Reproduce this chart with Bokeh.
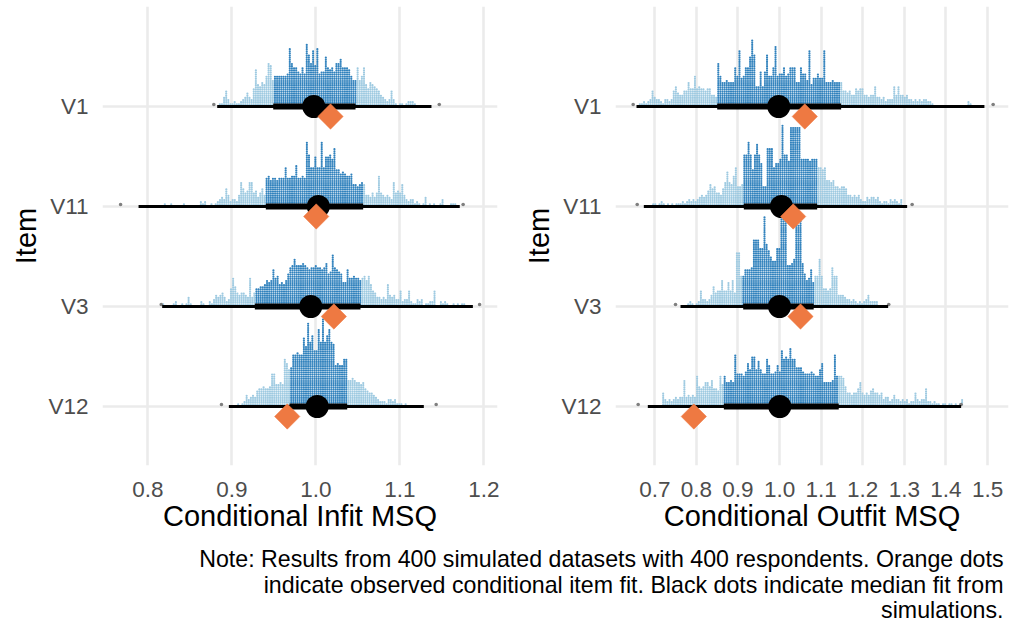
import math
from bokeh.plotting import figure
from bokeh.models import Range1d, FixedTicker, ColumnDataSource, CustomJSTickFormatter
from bokeh.layouts import column, row
from bokeh.embed import file_html
from bokeh.resources import INLINE
from bokeh.core.properties import value

# ---------------- data ----------------
items = ["V1", "V11", "V3", "V12"]
item_pos = [4, 3, 2, 1]

# Conditional infit: dot-column heights (left to right), first column centre value
infit_start = [0.88576, 0.82028, 0.81829, 0.90758]
infit_v1 = [1, 1, 4, 7, 3, 1, 1, 2, 1, 1, 2, 3, 4, 6, 4, 3, 8, 17, 10, 9, 11, 10, 14, 20, 19, 12,
            14, 14, 14, 14, 14, 14, 15, 27, 20, 18, 18, 16, 15, 18, 15, 29, 24, 20, 26, 19, 27, 15,
            16, 16, 23, 18, 17, 18, 16, 20, 20, 22, 18, 18, 18, 17, 14, 12, 12, 18, 12, 14, 18, 10,
            8, 11, 10, 9, 8, 7, 5, 4, 3, 2, 3, 7, 3, 1, 0, 1, 1, 0, 1, 2, 2, 2, 1]
infit_v11 = [1, 0, 0, 1, 0, 0, 0, 0, 0, 1, 0, 0, 0, 0, 0, 0, 0, 2, 1, 2, 0, 0, 1, 0, 1, 2, 3, 4, 3,
             8, 5, 2, 3, 3, 2, 5, 11, 8, 6, 7, 11, 11, 6, 7, 4, 6, 8, 5, 13, 14, 12, 13, 13, 12, 13,
             13, 13, 18, 13, 13, 14, 14, 19, 13, 13, 14, 13, 30, 24, 18, 18, 23, 18, 18, 30, 18, 23,
             23, 24, 22, 27, 17, 17, 15, 16, 15, 14, 14, 15, 10, 10, 9, 10, 11, 10, 5, 5, 4, 6, 4, 6,
             14, 6, 5, 4, 5, 4, 3, 11, 6, 7, 6, 10, 5, 3, 2, 3, 3, 1, 2, 1, 0, 1, 4, 0, 1, 0, 1, 0,
             0, 1, 3, 0, 0, 0, 1, 1, 1]
infit_v3 = [1, 0, 0, 0, 0, 1, 2, 0, 0, 1, 0, 1, 4, 1, 0, 0, 0, 0, 2, 1, 0, 0, 2, 1, 3, 5, 4, 5, 6,
            4, 2, 3, 8, 13, 9, 6, 5, 6, 6, 5, 4, 13, 4, 6, 8, 8, 9, 9, 10, 12, 11, 12, 17, 13, 14, 10,
            11, 10, 12, 15, 18, 19, 22, 19, 19, 19, 20, 19, 18, 17, 18, 18, 19, 18, 18, 17, 18, 20,
            15, 16, 24, 18, 17, 16, 15, 11, 11, 17, 13, 13, 14, 13, 13, 12, 13, 14, 12, 14, 10, 7, 6,
            4, 4, 3, 4, 3, 10, 5, 4, 5, 3, 3, 7, 2, 3, 3, 7, 2, 1, 1, 3, 2, 3, 0, 1, 1, 2, 2, 7, 0,
            0, 2, 1, 2, 1, 0, 0, 1, 0, 1, 0, 1, 1]
infit_v12 = [1, 0, 1, 2, 5, 3, 4, 5, 4, 7, 8, 8, 9, 8, 8, 9, 15, 15, 10, 10, 11, 10, 22, 20, 17, 18,
             24, 24, 25, 24, 24, 32, 28, 39, 30, 33, 26, 26, 36, 30, 41, 30, 33, 36, 30, 29, 19, 20,
             19, 19, 22, 22, 12, 12, 13, 12, 11, 11, 10, 11, 8, 7, 6, 6, 5, 4, 3, 2, 2, 2, 1, 3, 3,
             2, 3, 1, 1, 1, 0, 1]
infit_counts = [infit_v1, infit_v11, infit_v3, infit_v12]
infit_thin_lo = [0.8826, 0.789, 0.8171, 0.8965]
infit_thin_hi = [1.1377, 1.1714, 1.187, 1.1286]
infit_thick_lo = [0.9493, 0.9405, 0.9274, 0.9687]
infit_thick_hi = [1.0473, 1.0564, 1.0532, 1.0374]
infit_median = [0.9976, 1.0030, 0.9940, 1.0017]
infit_observed = [1.0175, 1.0005, 1.0215, 0.9660]
infit_ext_lo = [0.8786, 0.7676, 0.8160, 0.8877]
infit_ext_hi = [1.1470, 1.1754, 1.1950, 1.1433]

# Conditional outfit
outfit_start = [0.66401, 0.69608, 0.78024, 0.72012]
outfit_v1 = [1, 1, 2, 1, 2, 3, 7, 4, 3, 3, 2, 1, 3, 3, 2, 3, 7, 9, 6, 5, 5, 7, 7, 11, 8, 8, 14, 8,
             9, 8, 8, 7, 8, 8, 5, 5, 4, 20, 14, 11, 11, 12, 11, 11, 11, 18, 14, 26, 13, 14, 18, 18,
             23, 31, 24, 9, 9, 16, 9, 16, 24, 14, 14, 18, 28, 14, 15, 15, 18, 14, 15, 18, 18, 18, 11,
             11, 18, 15, 15, 12, 26, 10, 13, 13, 15, 13, 13, 26, 11, 11, 11, 12, 11, 11, 11, 11, 7, 7,
             6, 7, 5, 5, 8, 7, 8, 8, 5, 5, 4, 5, 5, 9, 4, 4, 3, 4, 2, 3, 3, 3, 9, 5, 9, 5, 5, 4, 5, 3,
             3, 2, 3, 2, 3, 2, 3, 3, 2, 2, 1, 0, 0, 0, 0, 0, 0, 0, 0, 0, 0, 0, 0, 0, 0, 0, 0, 2, 1]
outfit_v11 = [1, 1, 0, 1, 2, 1, 0, 1, 0, 1, 0, 1, 1, 1, 2, 1, 2, 3, 2, 3, 2, 3, 4, 5, 4, 5, 7, 10,
              8, 9, 6, 6, 5, 8, 11, 16, 11, 10, 14, 18, 9, 9, 10, 24, 24, 30, 24, 17, 24, 29, 24, 20,
              9, 9, 27, 27, 27, 18, 20, 20, 22, 38, 24, 24, 21, 37, 37, 37, 37, 37, 22, 22, 22, 22,
              21, 22, 22, 22, 18, 18, 17, 18, 12, 12, 11, 12, 9, 9, 8, 9, 9, 8, 5, 5, 4, 5, 4, 5, 3,
              2, 2, 4, 3, 4, 4, 3, 4, 2, 1, 2, 2, 1, 3, 2, 3, 2, 1, 3]
outfit_v3 = [1, 2, 1, 0, 1, 2, 7, 3, 3, 2, 3, 5, 9, 6, 7, 7, 12, 7, 7, 11, 7, 12, 6, 25, 25, 14, 14,
             17, 17, 17, 18, 31, 31, 31, 27, 27, 42, 29, 26, 23, 21, 21, 27, 27, 43, 43, 40, 19, 19,
             20, 22, 38, 38, 41, 20, 15, 12, 13, 17, 11, 14, 14, 22, 14, 8, 8, 7, 8, 18, 14, 14, 5,
             5, 5, 4, 3, 3, 2, 3, 2, 1, 2, 1, 2, 3, 5, 2, 2, 2, 2]
outfit_v12 = [6, 3, 2, 3, 2, 3, 4, 3, 4, 4, 12, 4, 5, 4, 5, 4, 14, 9, 8, 9, 11, 11, 9, 12, 8, 8, 7,
              14, 10, 14, 11, 11, 12, 11, 24, 15, 15, 15, 14, 16, 20, 17, 23, 23, 17, 21, 17, 15, 15,
              22, 19, 15, 15, 16, 19, 16, 26, 22, 23, 22, 27, 22, 22, 18, 18, 18, 16, 15, 15, 15, 16,
              15, 14, 14, 17, 20, 11, 11, 11, 11, 12, 24, 14, 14, 14, 13, 9, 6, 6, 5, 6, 6, 8, 11, 6,
              5, 6, 5, 7, 8, 6, 6, 5, 6, 3, 4, 4, 2, 3, 5, 3, 3, 2, 3, 2, 3, 1, 2, 2, 6, 3, 2, 3, 3,
              8, 2, 2, 1, 2, 1, 1, 0, 1, 1, 0, 1, 1, 0, 1, 0, 1, 3]
outfit_counts = [outfit_v1, outfit_v11, outfit_v3, outfit_v12]
outfit_thin_lo = [0.6560, 0.6736, 0.7618, 0.6832]
outfit_thin_hi = [1.4925, 1.3067, 1.2610, 1.4365]
outfit_thick_lo = [0.8500, 0.9140, 0.9125, 0.8660]
outfit_thick_hi = [1.1480, 1.0904, 1.0820, 1.1423]
outfit_median = [0.9980, 1.0046, 0.9998, 1.0005]
outfit_observed = [1.0606, 1.0327, 1.0503, 0.7938]
outfit_ext_lo = [0.6480, 0.6577, 0.7498, 0.6600]
outfit_ext_hi = [1.5135, 1.3187, 1.2625, 1.4365]

infit_ticks = [0.8, 0.9, 1.0, 1.1, 1.2]
outfit_ticks = [0.7, 0.8, 0.9, 1.0, 1.1, 1.2, 1.3, 1.4, 1.5]

note_lines = [
    "Note: Results from 400 simulated datasets with 400 respondents. Orange dots",
    "indicate observed conditional item fit. Black dots indicate median fit from",
    "simulations.",
]

# ---------------- style ----------------
FONT = "Liberation Sans"
DARK = "#3182BD"
LIGHT = "#9ECAE1"
ORANGE = "#EE7942"
GRID = "#EBEBEB"
DOT_DY = 0.0212      # vertical pitch of stacked dots (y units)
DOT_Y0 = 0.022       # first dot above baseline


def make_panel(xr, ticks, xlabel, starts, counts, bw, thin_lo, thin_hi, thick_lo, thick_hi,
               med, obs, ext_lo, ext_hi, frame_w, border_l, border_r):
    p = figure(frame_width=frame_w, frame_height=459, x_range=Range1d(*xr),
               y_range=Range1d(0.41, 5.0), output_backend="svg", toolbar_location=None,
               min_border_left=border_l, min_border_right=border_r, min_border_top=6,
               min_border_bottom=80)
    p.outline_line_color = None
    p.background_fill_color = "white"
    p.border_fill_color = "white"

    p.xaxis.ticker = FixedTicker(ticks=ticks)
    p.yaxis.ticker = FixedTicker(ticks=item_pos)
    p.xgrid.ticker = FixedTicker(ticks=ticks)
    p.ygrid.ticker = FixedTicker(ticks=item_pos)
    p.xaxis.formatter = CustomJSTickFormatter(code="return tick.toFixed(1);")
    p.yaxis.major_label_overrides = {pos: name for pos, name in zip(item_pos, items)}
    for g in (p.xgrid, p.ygrid):
        g.grid_line_color = GRID
        g.grid_line_width = 2.6
    for ax in (p.xaxis, p.yaxis):
        ax.axis_line_color = None
        ax.major_tick_line_color = None
        ax.minor_tick_line_color = None
        ax.major_tick_out = 0
        ax.major_tick_in = 0
        ax.major_label_text_font = FONT
        ax.major_label_text_font_size = "22.5px"
        ax.major_label_text_color = "#4D4D4D"
        ax.axis_label_text_font = FONT
        ax.axis_label_text_font_size = "29px"
        ax.axis_label_text_font_style = "normal"
        ax.axis_label_text_color = "black"
    p.xaxis.axis_label = xlabel
    p.yaxis.axis_label = "Item"
    p.xaxis.major_label_standoff = 16
    p.xaxis.axis_label_standoff = 0
    p.yaxis.major_label_standoff = 14
    p.yaxis.axis_label_standoff = 3

    xs, ys, cs = [], [], []
    for j, pos in enumerate(item_pos):
        for i, h in enumerate(counts[j]):
            x = starts[j] + i * bw
            col = DARK if thick_lo[j] <= x <= thick_hi[j] else LIGHT
            for k in range(h):
                xs.append(x)
                ys.append(pos + DOT_Y0 + k * DOT_DY)
                cs.append(col)
    p.scatter(x="x", y="y", color="c", size=2.2, line_width=0,
              source=ColumnDataSource(dict(x=xs, y=ys, c=cs)))

    gy = [pos + 0.02 for pos in item_pos]
    p.scatter(ext_lo + ext_hi, gy + gy, size=3.6, color="#7F7F7F", line_width=0)

    p.segment(x0=thin_lo, y0=item_pos, x1=thin_hi, y1=item_pos, line_width=3.2,
              line_color="black")
    p.segment(x0=thick_lo, y0=item_pos, x1=thick_hi, y1=item_pos, line_width=6,
              line_color="black")
    p.scatter(med, item_pos, size=23, color="black", line_width=0)
    p.scatter(obs, [pos - 0.1 for pos in item_pos], marker="square", angle=math.pi / 4,
              size=17.9, fill_color=ORANGE, line_color=ORANGE, line_width=0.5)
    return p


left = make_panel((0.74607, 1.21631), infit_ticks, "Conditional Infit MSQ", infit_start,
                  infit_counts, 0.0025238, infit_thin_lo, infit_thin_hi, infit_thick_lo,
                  infit_thick_hi, infit_median, infit_observed, infit_ext_lo, infit_ext_hi,
                  395, 102, 10)
right = make_panel((0.6055, 1.5504), outfit_ticks, "Conditional Outfit MSQ", outfit_start,
                   outfit_counts, 0.0050974, outfit_thin_lo, outfit_thin_hi, outfit_thick_lo,
                   outfit_thick_hi, outfit_median, outfit_observed, outfit_ext_lo, outfit_ext_hi,
                   393, 108, 3)

note = figure(width=1011, height=75, x_range=Range1d(0, 1011), y_range=Range1d(0, 75),
              x_axis_type=None, y_axis_type=None, output_backend="svg",
              toolbar_location=None, min_border=0)
note.grid.visible = False
note.outline_line_color = None
note.text(x=[1003, 1003, 1003], y=[61.7, 35.4, 11.0], text=note_lines, text_align="right",
          text_baseline="alphabetic", text_font=value(FONT), text_font_size="23.2px",
          text_color="black")

layout = column(row(left, right), note)
open("out.html", "w").write(file_html(layout, INLINE))
